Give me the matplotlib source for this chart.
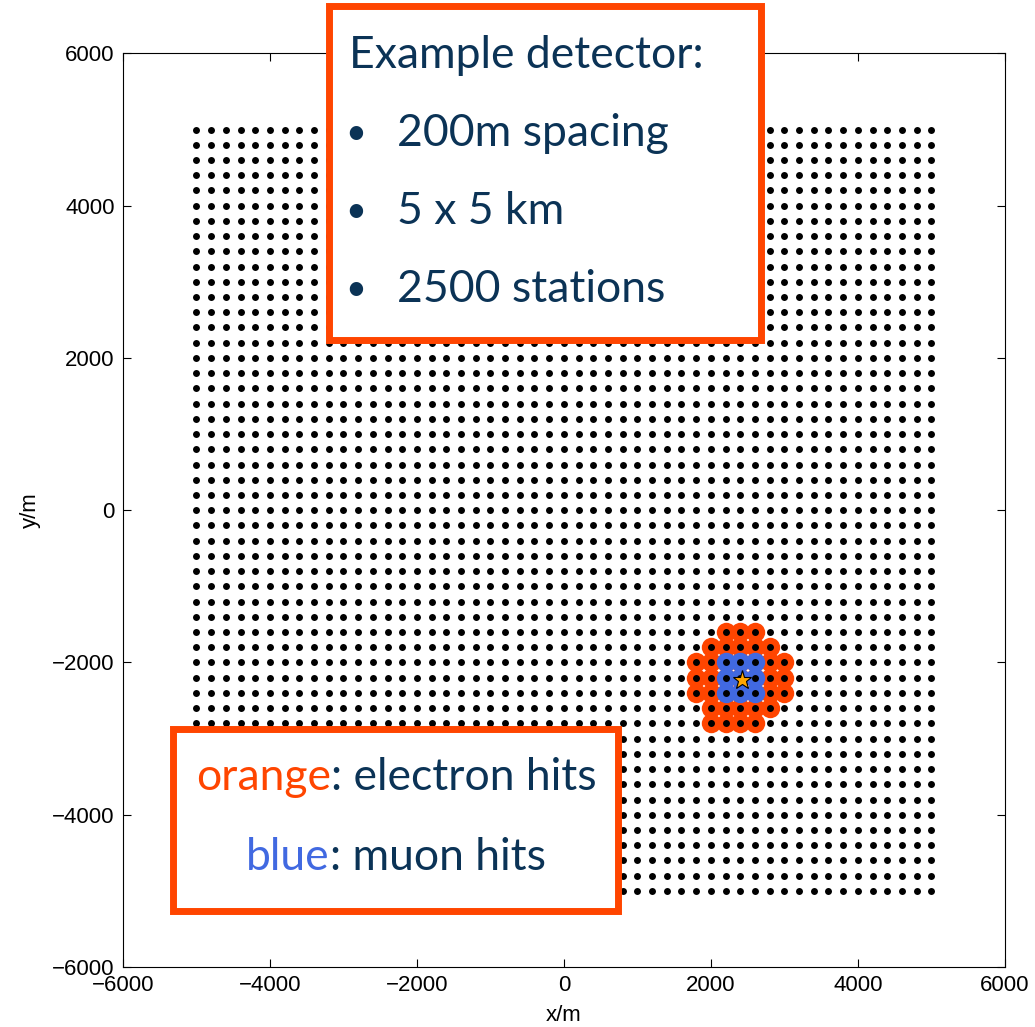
import matplotlib
matplotlib.use("Agg")
import matplotlib.pyplot as plt
from matplotlib.patches import Rectangle
import numpy as np

# detector layout: square grid, 200 m spacing
grid_min = -5000
grid_max = 5000
spacing = 200

# electron hits (orange), by row
electron_x = [2200, 2400, 2600,
              2000, 2200, 2400, 2600, 2800,
              1800, 2000, 2200, 2400, 2600, 2800, 3000,
              1800, 2000, 2200, 2400, 2600, 2800, 3000,
              1800, 2000, 2200, 2400, 2600, 2800, 3000,
              2000, 2200, 2400, 2600, 2800,
              2000, 2200, 2400, 2600]
electron_y = [-1600] * 3 + [-1800] * 5 + [-2000] * 7 + [-2200] * 7 + [-2400] * 7 + [-2600] * 5 + [-2800] * 4

# muon hits (blue)
muon_x = [2200, 2400, 2600] * 3
muon_y = [-2000] * 3 + [-2200] * 3 + [-2400] * 3

# shower core
core_x = [2420]
core_y = [-2230]

ticks = [-6000, -4000, -2000, 0, 2000, 4000, 6000]

orange = "#FF4500"
blue = "#4169E1"
navy = "#0B3356"

fig = plt.figure(figsize=(10.35, 10.27), dpi=100)
ax = fig.add_axes([0.1188, 0.0584, 0.852, 0.8896])

gx, gy = np.meshgrid(np.arange(grid_min, grid_max + 1, spacing),
                     np.arange(grid_min, grid_max + 1, spacing))

ax.plot(electron_x, electron_y, "o", color=orange, markersize=14, markeredgewidth=0, zorder=2)
ax.plot(muon_x, muon_y, "o", color=blue, markersize=14, markeredgewidth=0, zorder=3)
ax.plot(gx.ravel(), gy.ravel(), "o", color="black", markersize=5, markeredgewidth=0, zorder=4)
ax.plot(core_x, core_y, "*", color="#FFA500", markeredgecolor="black", markeredgewidth=0.8,
        markersize=14, zorder=5)

ax.set_xlim(-6000, 6000)
ax.set_ylim(-6000, 6000)
ax.set_xticks(ticks)
ax.set_yticks(ticks)
labels = ["\u2212" + str(-t) if t < 0 else str(t) for t in ticks]
ax.set_xticklabels(labels, fontsize=16, family="Liberation Sans")
ax.set_yticklabels(labels, fontsize=16, family="Liberation Sans")
ax.tick_params(direction="in", length=6, width=0.8, top=True, right=True, pad=6)
ax.set_xlabel("x/m", fontsize=16, family="Liberation Sans", labelpad=6)
ax.set_ylabel("y/m", fontsize=16, family="Liberation Sans", labelpad=8)

W, H = 1035.0, 1027.0


def fig_box(x0, y0, x1, y1):
    # pixel coords (top-left origin) -> figure rectangle
    r = Rectangle((x0 / W, 1 - y1 / H), (x1 - x0) / W, (y1 - y0) / H,
                  transform=fig.transFigure, facecolor="white", edgecolor=orange,
                  linewidth=5, zorder=10)
    fig.patches.append(r)


def fig_text(x, y, s, **kw):
    return fig.text(x / W, 1 - y / H, s, zorder=11, family="Lato", **kw)


fig_box(329, 6, 761, 340)
fig_text(349, 55, "Example detector:", fontsize=32, color=navy, va="center")
for yy, s in [(133, "200m spacing"), (212, "5 x 5 km"), (290, "2500 stations")]:
    fig_text(356, yy, "\u2022", fontsize=26, color=navy, va="center", ha="center")
    fig_text(397, yy, s, fontsize=32, color=navy, va="center")

fig_box(173, 729, 618, 911)

renderer = fig.canvas.get_renderer()


def two_colour_line(yy, word, colour, rest, centre=396):
    t1 = fig_text(0, yy, word, fontsize=32, color=colour, va="center")
    t2 = fig_text(0, yy, rest, fontsize=32, color=navy, va="center")
    w1 = t1.get_window_extent(renderer).width
    w2 = t2.get_window_extent(renderer).width
    x0 = centre - (w1 + w2) / 2
    t1.set_x(x0 / W)
    t2.set_x((x0 + w1) / W)


two_colour_line(778, "orange", orange, ": electron hits")
two_colour_line(858, "blue", blue, ": muon hits")

fig.savefig("out.png", dpi=100, facecolor="white")
